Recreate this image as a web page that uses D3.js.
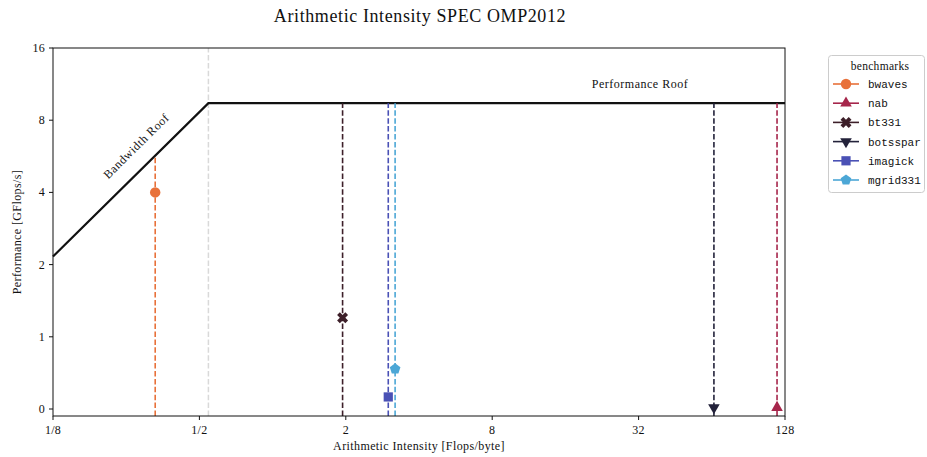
<!DOCTYPE html>
<html><head><meta charset="utf-8">
<script src="https://cdn.jsdelivr.net/npm/d3@7"></script>
<style>body{margin:0;background:#fff}svg{display:block}</style>
</head><body><svg id="c" width="927" height="457"></svg>
<script>
const benchmarks = ["bwaves","nab","bt331","botsspar","imagick","mgrid331"];
const intensity = [0.329, 118.7, 1.94, 65.3, 2.99, 3.19];
const performance = [4.0, 0.02, 1.2, 0.02, 0.167, 0.555];
const colors = ["#e8713a","#a6264b","#3d1f29","#23223a","#4a51b5","#4ca7d6"];
const markers = ["circle","triangleUp","x","triangleDown","square","pentagon"];
const peakPerf = 9.42;
const bandwidth = 17.3;
const xTicks = [1/8, 1/2, 2, 8, 32, 128];
const xTickLabels = ["1/8","1/2","2","8","32","128"];
const yTicks = [0,1,2,4,8,16];

const svg = d3.select("#c");
const L=53,R=785,T=48,B=416;
const x = d3.scaleLog().base(2).domain([1/8,128]).range([L,R]);
const yLin = d3.scaleLinear().domain([0,5]).range([409,48]);
const tr = v => v<=1 ? v : 1+Math.log2(v);
const y = v => yLin(tr(v));
const serif = "'Liberation Serif','DejaVu Serif',serif";
const mono = "'Liberation Mono','DejaVu Sans Mono',monospace";
const ridge = peakPerf/bandwidth;

function txt(g,xx,yy,s,size,anchor,ls,fam){
  return g.append("text").attr("x",xx).attr("y",yy).attr("text-anchor",anchor||"middle")
    .attr("font-family",fam||serif).attr("font-size",size).attr("letter-spacing",ls||0).attr("fill","#111").text(s);
}

// ridge gray dashed
svg.append("line").attr("x1",x(ridge)).attr("x2",x(ridge)).attr("y1",B).attr("y2",T)
  .attr("stroke","#d9d9d9").attr("stroke-width",1.5).attr("stroke-dasharray","5.5,2.4");

// roofline
const roofPts = [[1/8,bandwidth/8],[ridge,peakPerf],[128,peakPerf]];
svg.append("path").attr("d",d3.line().x(d=>x(d[0])).y(d=>y(d[1]))(roofPts))
  .attr("fill","none").attr("stroke","#111").attr("stroke-width",2.2);

function sym(type,size){
  const m={circle:d3.symbolCircle,triangleUp:d3.symbolTriangle,triangleDown:d3.symbolTriangle,square:d3.symbolSquare,x:d3.symbolCross};
  if(type==="pentagon"){
    const r=5.6;const pts=d3.range(5).map(i=>{const a=-Math.PI/2+i*2*Math.PI/5;return [r*Math.cos(a),r*Math.sin(a)];});
    return "M"+pts.join("L")+"Z";
  }
  return d3.symbol().type(m[type]).size(size)();
}
function drawMarker(g,type,cx,cy,col){
  let s = {circle:85,triangleUp:58,triangleDown:58,square:85,x:75}[type];
  let rot = type==="triangleDown"?180:(type==="x"?45:0);
  g.append("path").attr("d",sym(type,s)).attr("fill",col)
    .attr("transform",`translate(${cx},${cy}) rotate(${rot})`);
}
benchmarks.forEach((b,i)=>{
  const xi=intensity[i];
  const top=Math.min(bandwidth*xi,peakPerf);
  svg.append("line").attr("x1",x(xi)).attr("x2",x(xi)).attr("y1",B).attr("y2",y(top))
    .attr("stroke",colors[i]).attr("stroke-width",1.6).attr("stroke-dasharray","5.5,2.4");
  drawMarker(svg,markers[i],x(xi),y(performance[i]),colors[i]);
});

// frame
svg.append("rect").attr("x",L).attr("y",T).attr("width",R-L).attr("height",B-T)
  .attr("fill","none").attr("stroke","#111").attr("stroke-width",1);

// axes ticks
xTicks.forEach((t,i)=>{
  svg.append("line").attr("x1",x(t)).attr("x2",x(t)).attr("y1",B).attr("y2",B+4).attr("stroke","#111");
  txt(svg,x(t),B+18,xTickLabels[i],12,"middle",0.3);
});
yTicks.forEach(t=>{
  svg.append("line").attr("x1",L-4).attr("x2",L).attr("y1",y(t)).attr("y2",y(t)).attr("stroke","#111");
  txt(svg,L-8,y(t)+4,t,12,"end",0.3);
});

// labels
txt(svg,420,22,"Arithmetic Intensity SPEC OMP2012",18,"middle",0.6);
txt(svg,419,450,"Arithmetic Intensity [Flops/byte]",12,"middle",0.4);
svg.append("text").attr("transform","translate(21,232) rotate(-90)").attr("text-anchor","middle")
  .attr("font-family",serif).attr("font-size",12).attr("letter-spacing",0.4).attr("fill","#111").text("Performance [GFlops/s]");
txt(svg,640,88,"Performance Roof",12,"middle",0.5);
svg.append("text").attr("transform","translate(139,149) rotate(-44.6)").attr("text-anchor","middle")
  .attr("font-family",serif).attr("font-size",12).attr("letter-spacing",0.5).attr("fill","#111").text("Bandwidth Roof");

// legend
const lg=svg.append("g");
lg.append("rect").attr("x",828.5).attr("y",55.5).attr("width",96).attr("height",137).attr("rx",3)
  .attr("fill","#fff").attr("stroke","#ccc");
txt(lg,880,70,"benchmarks",11.5,"middle",0.3);
benchmarks.forEach((b,i)=>{
  const ly=84+i*19.2;
  lg.append("line").attr("x1",833).attr("x2",859).attr("y1",ly).attr("y2",ly).attr("stroke",colors[i]).attr("stroke-width",1.6);
  drawMarker(lg,markers[i],846,ly,colors[i]);
  txt(lg,868,ly+4,b,11,"start",0,mono);
});
</script></body></html>
